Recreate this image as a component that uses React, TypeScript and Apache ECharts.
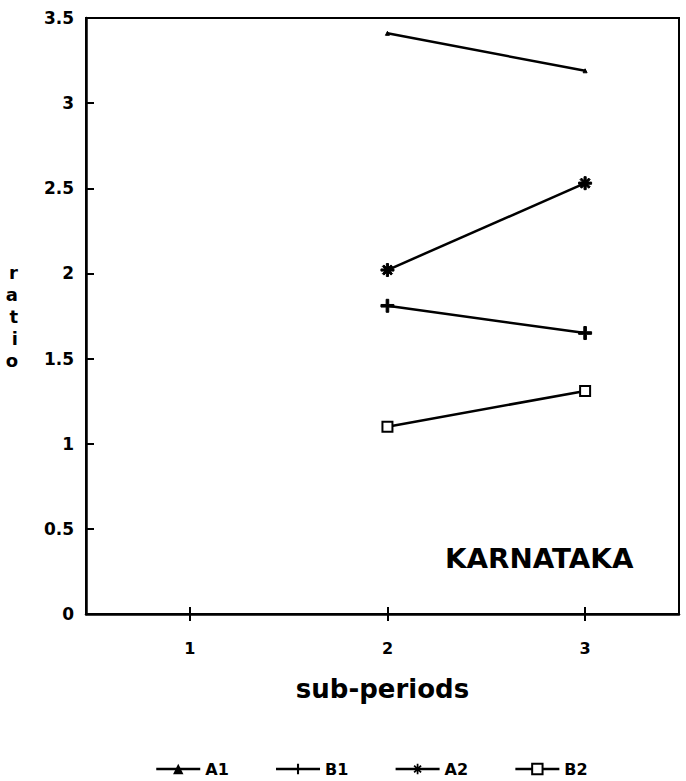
import React, { useEffect, useRef } from "react";
import * as echarts from "echarts";

const subPeriods = [2, 3];
const xTicks = [1, 2, 3];
const a1 = [3.41, 3.19];
const b1 = [1.81, 1.65];
const a2 = [2.02, 2.53];
const b2 = [1.1, 1.31];
const seriesNames = ["A1", "B1", "A2", "B2"];
const chartLabel = "KARNATAKA";

const FONT = "DejaVu Sans";
const PLUS = "path://M4,0H6V4H10V6H6V10H4V6H0V4H4Z";
const STAR =
  "path://M5,0H7V12H5Z M0,5H12V7H0Z M1.3,2.7L2.7,1.3L10.7,9.3L9.3,10.7Z M9.3,1.3L10.7,2.7L2.7,10.7L1.3,9.3Z";

function pairs(vals: number[]) {
  return subPeriods.map((x, i) => [x, vals[i]]);
}

export default function App() {
  const ref = useRef<HTMLDivElement>(null);
  useEffect(() => {
    if (!ref.current) return;
    const chart = echarts.init(ref.current, null, { renderer: "svg" });
    const lineStyle = { color: "#000", width: 2.5 };
    const mk = (name: string, vals: number[], symbol: string, size: number, extra: any = {}) => ({
      name,
      type: "line",
      data: pairs(vals),
      symbol,
      symbolSize: size,
      lineStyle,
      itemStyle: { color: "#000", borderColor: "#000", ...extra },
      z: 5,
    });
    chart.setOption({
      animation: false,
      backgroundColor: "#fff",
      grid: {
        left: 86,
        right: 7,
        top: 18,
        bottom: 167,
        show: true,
        borderColor: "#000",
        borderWidth: 2,
        backgroundColor: "transparent",
      },
      xAxis: [
        {
          type: "value",
          position: "bottom",
          min: 0.475,
          max: 3.475,
          name: "sub-periods",
          nameLocation: "middle",
          nameGap: 62,
          nameTextStyle: { fontFamily: FONT, fontWeight: "bold", fontSize: 26, color: "#000" },
          axisLine: { show: true, lineStyle: { color: "#000", width: 2.5 } },
          axisTick: { show: true, inside: false, length: 7, customValues: xTicks, lineStyle: { color: "#000", width: 2 } },
          axisLabel: {
            customValues: xTicks,
            margin: 26,
            fontFamily: FONT,
            fontWeight: "bold",
            fontSize: 16,
            color: "#000",
          },
          splitLine: { show: false },
        },
        {
          type: "value",
          position: "bottom",
          min: 0.475,
          max: 3.475,
          axisLine: { show: false },
          axisTick: { show: true, inside: true, length: 7, customValues: xTicks, lineStyle: { color: "#000", width: 2 } },
          axisLabel: { show: false },
          splitLine: { show: false },
        },
      ],
      yAxis: {
        type: "value",
        min: 0,
        max: 3.5,
        interval: 0.5,
        name: "r\na\nt\ni\no",
        nameLocation: "middle",
        nameRotate: 0,
        nameGap: 68,
        nameTextStyle: {
          fontFamily: FONT,
          fontWeight: "bold",
          fontSize: 18,
          lineHeight: 22,
          color: "#000",
          padding: [16, 0, 0, 0],
        },
        axisLine: { show: true, lineStyle: { color: "#000", width: 2.5 } },
        axisTick: { show: true, inside: true, length: 8, lineStyle: { color: "#000", width: 2 } },
        axisLabel: { margin: 12, fontFamily: FONT, fontWeight: "bold", fontSize: 17, color: "#000" },
        splitLine: { show: false },
      },
      legend: {
        data: seriesNames,
        left: 150,
        top: 756,
        itemWidth: 44,
        itemHeight: 13,
        itemGap: 46,
        lineStyle: { width: 2.5, color: "#000" },
        textStyle: { fontFamily: FONT, fontWeight: "bold", fontSize: 16, color: "#000" },
      },
      graphic: [
        {
          type: "text",
          left: 445,
          top: 545,
          scaleX: 1.03,
          style: { text: chartLabel, fontFamily: FONT, fontWeight: "bold", fontSize: 27, fill: "#000" },
        },
      ],
      series: [
        mk(seriesNames[0], a1, "triangle", 4),
        mk(seriesNames[1], b1, PLUS, 13),
        mk(seriesNames[2], a2, STAR, 13),
        mk(seriesNames[3], b2, "emptyRect", 10, { borderWidth: 2.5 }),
      ],
    });
    return () => chart.dispose();
  }, []);
  return (
    <div
      ref={ref}
      style={{ position: "fixed", left: 0, top: 0, width: 686, height: 781, background: "#fff" }}
    />
  );
}
